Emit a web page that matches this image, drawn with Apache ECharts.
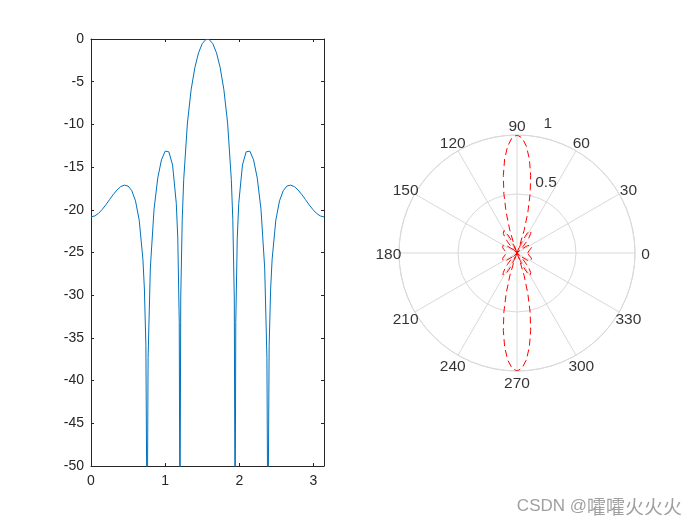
<!DOCTYPE html>
<html><head><meta charset="utf-8">
<script src="https://cdn.jsdelivr.net/npm/echarts@6/dist/echarts.min.js"></script>
<style>html,body{margin:0;padding:0;background:#fff}#c{width:700px;height:525px}</style>
</head><body><div id="c"></div>
<script>
// ---- left plot: array factor in dB vs theta (rad) ----
const thetaX = [0,0.05,0.1,0.15,0.2,0.25,0.3,0.35,0.4,0.45,0.5,0.55,0.6,0.65,0.7,0.72,0.74,0.757,0.77,0.8,0.85,0.9,0.95,1.0,1.05,1.1,1.15,1.17,1.19,1.199,1.21,1.23,1.25,1.3,1.35,1.4,1.45,1.5,1.55,1.571,1.592,1.642,1.692,1.742,1.792,1.842,1.892,1.912,1.932,1.943,1.952,1.972,1.992,2.042,2.092,2.142,2.192,2.242,2.292,2.342,2.372,2.385,2.402,2.422,2.442,2.492,2.542,2.592,2.642,2.692,2.742,2.792,2.842,2.892,2.942,2.992,3.042,3.092,3.1416];
const afDb = [-20.83,-20.72,-20.43,-19.97,-19.42,-18.81,-18.21,-17.68,-17.29,-17.11,-17.22,-17.76,-18.95,-21.21,-25.80,-29.28,-35.9,-60,-37.3,-26.82,-19.94,-16.29,-14.15,-13.13,-13.21,-14.76,-19.25,-23.29,-33.21,-60,-30.34,-21.11,-16.46,-9.85,-5.95,-3.36,-1.62,-0.54,-0.05,0,-0.05,-0.54,-1.62,-3.36,-5.95,-9.85,-16.46,-21.11,-30.34,-60,-33.21,-23.29,-19.25,-14.76,-13.21,-13.13,-14.15,-16.29,-19.94,-26.82,-37.3,-60,-35.9,-29.28,-25.80,-21.21,-18.95,-17.76,-17.22,-17.11,-17.29,-17.68,-18.21,-18.81,-19.42,-19.97,-20.43,-20.72,-20.83];
const xTicks = [0,1,2,3];
const yTicks = [-50,-45,-40,-35,-30,-25,-20,-15,-10,-5,0];

// ---- right plot: linear pattern, polar ----
const polarAngle = [0,5,10,15,20,25,30,35,40,41.5,43.3,45,47.5,50,52.5,55,57.5,60,62.5,65,67,68.7,70,72.5,75,77.5,80,82.5,85,87.5,90,
92.5,95,97.5,100,102.5,105,107.5,110,111.3,113,115,117.5,120,122.5,125,127.5,130,132.5,135,136.7,138.5,140,145,150,155,160,165,170,175,180,
185,190,195,200,205,210,215,220,221.5,223.3,225,227.5,230,232.5,235,237.5,240,242.5,245,247,248.7,250,252.5,255,257.5,260,262.5,265,267.5,270,
272.5,275,277.5,280,282.5,285,287.5,290,291.3,293,295,297.5,300,302.5,305,307.5,310,312.5,315,316.7,318.5,320,325,330,335,340,345,350,355,360];
const polarR = [0.091,0.094,0.103,0.117,0.130,0.139,0.135,0.108,0.053,0.031,0,0.030,0.078,0.125,0.169,0.203,0.221,0.220,0.192,0.136,0.070,0,0.064,0.201,0.354,0.514,0.667,0.803,0.909,0.977,1,
0.977,0.909,0.803,0.667,0.514,0.354,0.201,0.064,0,0.070,0.136,0.192,0.220,0.221,0.203,0.169,0.125,0.078,0.030,0,0.031,0.053,0.108,0.135,0.139,0.130,0.117,0.103,0.094,0.091,
0.094,0.103,0.117,0.130,0.139,0.135,0.108,0.053,0.031,0,0.030,0.078,0.125,0.169,0.203,0.221,0.220,0.192,0.136,0.070,0,0.064,0.201,0.354,0.514,0.667,0.803,0.909,0.977,1,
0.977,0.909,0.803,0.667,0.514,0.354,0.201,0.064,0,0.070,0.136,0.192,0.220,0.221,0.203,0.169,0.125,0.078,0.030,0,0.031,0.053,0.108,0.135,0.139,0.130,0.117,0.103,0.094,0.091];
const angleTicks = [0,30,60,90,120,150,180,210,240,270,300,330];
const rTicks = [0.5, 1];
const rLabelAngle = 82;
const angleLabelRadius = 1.09;
const watermarkLatin = 'CSDN @';
const watermarkCJK = '嚯嚯火火火';

const chart = echarts.init(document.getElementById('c'), null, {renderer: 'canvas'});
const axisColor = '#262626';
const gridGray = '#d9d9d9';
const FONT = 'Arial, "Liberation Sans", Helvetica, sans-serif';

function xAx(pos, labels) {
  return {
    type: 'value', gridIndex: 0, position: pos, min: 0, max: 3.1416,
    axisLine: {show: true, onZero: false, lineStyle: {color: axisColor, width: 1}},
    axisTick: {show: true, inside: true, length: 3, customValues: xTicks, lineStyle: {color: axisColor}},
    axisLabel: {show: labels, customValues: xTicks, color: axisColor, fontSize: 14, fontFamily: FONT, margin: 8},
    splitLine: {show: false}
  };
}
function yAx(pos, labels) {
  return {
    type: 'value', gridIndex: 0, position: pos, min: -50, max: 0, interval: 5,
    axisLine: {show: true, onZero: false, lineStyle: {color: axisColor, width: 1}},
    axisTick: {show: true, inside: true, length: 3, customValues: yTicks, lineStyle: {color: axisColor}},
    axisLabel: {show: labels, customValues: yTicks, color: axisColor, fontSize: 14, fontFamily: FONT, margin: 7},
    splitLine: {show: false}
  };
}

chart.setOption({
  animation: false,
  backgroundColor: '#fff',
  grid: [{left: 91, top: 39, width: 233, height: 427}],
  xAxis: [xAx('bottom', true), xAx('top', false)],
  yAxis: [yAx('left', true), yAx('right', false)],
  polar: {center: [517, 253], radius: 118},
  angleAxis: {
    type: 'value', min: 0, max: 360, interval: 30, startAngle: 0, clockwise: false,
    axisLine: {show: true, lineStyle: {color: gridGray, width: 1}},
    axisTick: {show: false},
    axisLabel: {show: false},
    splitLine: {show: true, lineStyle: {color: gridGray, width: 1}}
  },
  radiusAxis: {
    type: 'value', min: 0, max: 1, interval: 0.5,
    axisLine: {show: false}, axisTick: {show: false}, axisLabel: {show: false},
    splitLine: {show: true, lineStyle: {color: gridGray, width: 1}}
  },
  series: [
    {
      type: 'line', xAxisIndex: 0, yAxisIndex: 0,
      data: thetaX.map((x, i) => [x, afDb[i]]),
      showSymbol: false, symbol: 'none', clip: true,
      lineStyle: {color: '#0072BD', width: 1}
    },
    {
      type: 'line', coordinateSystem: 'polar', polarIndex: 0,
      data: polarR.map((r, i) => [r, polarAngle[i]]),
      showSymbol: false, symbol: 'none', z: 5,
      lineStyle: {color: '#ff0000', width: 1, type: [7, 4]}
    },
    {
      type: 'scatter', coordinateSystem: 'polar', polarIndex: 0,
      data: rTicks.map(r => [r, rLabelAngle]),
      symbolSize: 0, silent: true, z: 6, clip: false,
      label: {show: true, position: 'right', distance: 0, offset: [10, -12],
        formatter: p => String(p.value[0]), color: '#000', fontSize: 15.5, fontFamily: FONT}
    },
    {
      type: 'scatter', coordinateSystem: 'polar', polarIndex: 0,
      data: angleTicks.map(a => [angleLabelRadius, a]),
      symbolSize: 0, silent: true, z: 6, clip: false,
      label: {show: true, position: 'inside', distance: 0, offset: [0, 2],
        formatter: p => String(p.value[1]), color: '#000', fontSize: 15.5, fontFamily: FONT}
    }
  ],
  graphic: [{
    type: 'text', right: 18, top: 497,
    style: {
      text: '{a|' + watermarkLatin + '}{b|' + watermarkCJK + '}',
      rich: {
        a: {fontSize: 17, fontFamily: '"Liberation Sans", Arial, sans-serif', fill: '#a0a0a0', lineHeight: 20},
        b: {fontSize: 19, fontFamily: '"Noto Sans CJK SC", sans-serif', fill: '#a0a0a0', lineHeight: 20}
      }
    }
  }]
});
</script></body></html>
